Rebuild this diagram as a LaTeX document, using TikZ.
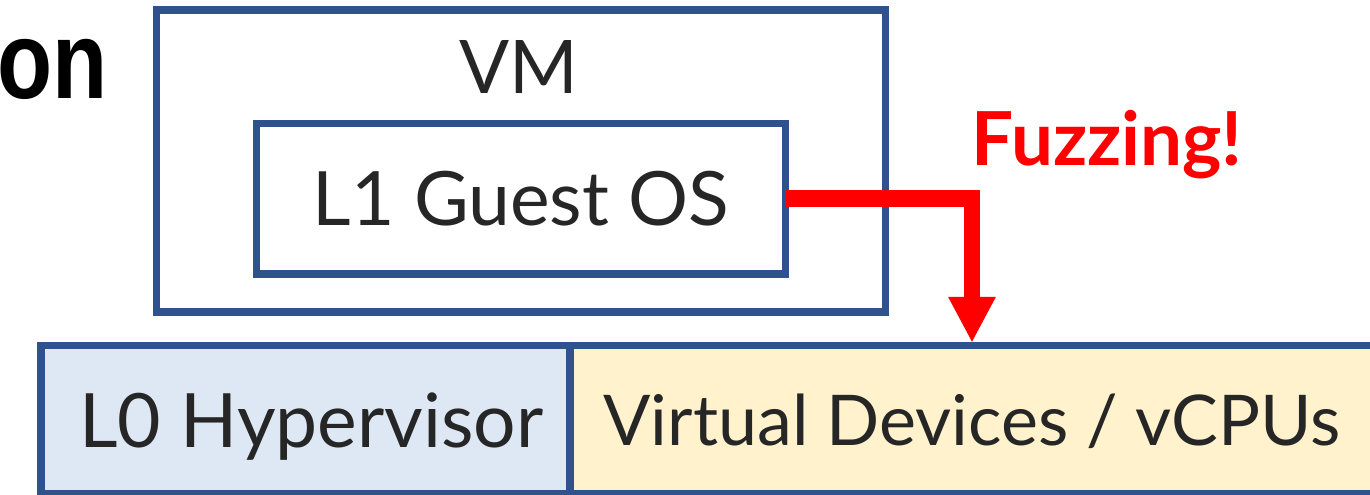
\documentclass[tikz,border=0pt]{standalone}
\usepackage{fontspec}
\setmainfont{Lato}
\newfontfamily\titlefont[FakeStretch=0.82]{Liberation Sans}
\usetikzlibrary{arrows.meta}

\definecolor{boxblue}{HTML}{2F528F}
\definecolor{hvfill}{HTML}{DEE8F5}
\definecolor{devfill}{HTML}{FFF2CC}
\definecolor{textgray}{HTML}{262626}

\tikzset{
  layerbox/.style={draw=boxblue, line width=7.5pt, inner sep=0pt, text=textgray,
    text depth=0pt, font=\fontsize{75}{80}\selectfont},
  boxlabel/.style={text=textgray, inner sep=0pt, font=\fontsize{74}{80}\selectfont},
  fuzzarrow/.style={draw=red, line width=16.6pt,
    -{Triangle[width=48pt,length=45pt,line width=0pt]}, shorten <=-3.75pt}
}

\begin{document}
\begin{tikzpicture}[x=1pt,y=-1pt]
        % a kep kerete
        \useasboundingbox (0,0) rectangle (1370,495);
        % a cim levagott vege
        \node[font=\titlefont\bfseries\fontsize{110}{120}\selectfont, anchor=base east, inner sep=0pt] (title) at (108,99) {on};
        % a VM doboz es felirata
        \node[layerbox, minimum width=729pt, minimum height=302pt] (vm) at (521,161) {};
        \node[boxlabel, anchor=base] (vmlabel) at (519,93) {VM};
        % a vendeg OS doboza
        \node[layerbox, minimum width=529pt, minimum height=150.5pt] (guest) at (521,198.75) {L1 Guest OS};
        % az also reteg ket doboza
        \node[layerbox, fill=hvfill, minimum width=529pt, minimum height=148.5pt] (hv) at (305.5,419.75) {\hspace{12pt}L0 Hypervisor};
        \node[layerbox, fill=devfill, minimum width=804pt, minimum height=148.5pt,
          font=\fontsize{70}{76}\selectfont] (vdev) at (972,419.75) {Virtual Devices / vCPUs};
        % a piros nyil es felirata
        \draw[fuzzarrow] (guest.east) -| (vdev.north);
        \node[font=\bfseries\fontsize{74.5}{80}\selectfont, text=red, anchor=base, inner sep=0pt] (fuzz) at (1107,165) {Fuzzing!};
    \end{tikzpicture}
\end{document}
